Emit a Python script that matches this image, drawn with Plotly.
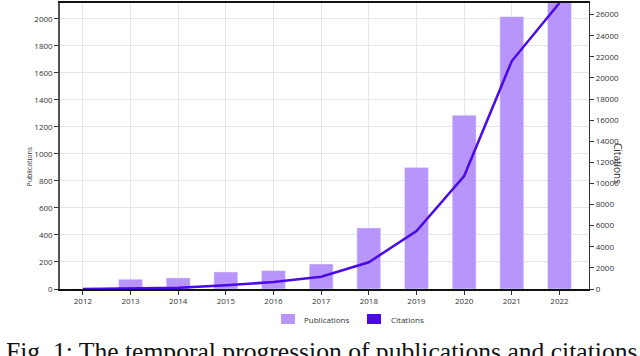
import plotly.graph_objects as go

years = [2012, 2013, 2014, 2015, 2016, 2017, 2018, 2019, 2020, 2021, 2022]
publications = [0, 72, 82, 126, 136, 185, 452, 899, 1287, 2017, 2140]
citations = [0, 40, 110, 350, 660, 1170, 2530, 5500, 10700, 21600, 27100]
left_ticks = list(range(0, 2001, 200))
right_ticks = list(range(0, 26001, 2000))
legend_names = ["Publications", "Citations"]

BAR_C = "#b895fa"
LINE_C = "#4b0be8"
W, H = 640, 356
L, R, T, B = 60, 51, 3, 67
pw, ph = W - L - R, H - T - B

def px_x(p):
    return (p - L) / pw

def px_y(p):
    return (H - B - p) / ph

fig = go.Figure()
fig.add_trace(go.Bar(x=years, y=publications, name=legend_names[0], marker_color=BAR_C,
                     width=0.5, yaxis="y", showlegend=False))
fig.add_trace(go.Scatter(x=years, y=citations, name=legend_names[1], mode="lines",
                         line=dict(color=LINE_C, width=2.5), yaxis="y2", showlegend=False))

tickfont = dict(family="Open Sans", size=8, color="#333")
fig.update_layout(
    width=W, height=H, margin=dict(l=L, r=R, t=T, b=B, autoexpand=False),
    paper_bgcolor="white", plot_bgcolor="white", showlegend=False,
    xaxis=dict(range=[2011.52, 2022.62], tickvals=years, ticktext=[str(y) for y in years],
               showgrid=True, gridcolor="#e6e6e6", gridwidth=1,
               showline=True, linecolor="#111", linewidth=1.5, mirror=True,
               ticks="outside", ticklen=4, tickcolor="#333", tickfont=tickfont, zeroline=False),
    yaxis=dict(range=[0, 2118], tickvals=left_ticks, showgrid=True, gridcolor="#e6e6e6",
               showline=True, linecolor="#555", linewidth=1.5, ticks="outside", ticklen=4,
               tickcolor="#333", tickfont=tickfont, zeroline=False),
    yaxis2=dict(range=[0, 27100], tickvals=right_ticks, ticktext=[str(v) for v in right_ticks],
                overlaying="y", side="right", anchor="x",
                showgrid=False, showline=True, linecolor="#333", linewidth=1.2,
                ticks="outside", ticklen=4, tickcolor="#333", tickfont=tickfont, zeroline=False),
)

# legend drawn as swatches + labels
for (sx, tx, col, name) in [(281, 302, BAR_C, legend_names[0]), (367, 389, LINE_C, legend_names[1])]:
    fig.add_shape(type="rect", xref="paper", yref="paper",
                  x0=px_x(sx), x1=px_x(sx + 14), y0=px_y(314), y1=px_y(324),
                  fillcolor=col, line=dict(width=0))
    fig.add_annotation(text=name, xref="paper", yref="paper", x=px_x(tx), y=px_y(319),
                       xanchor="left", yanchor="middle", showarrow=False,
                       font=dict(family="Open Sans", size=8, color="#333"))

fig.add_annotation(text="Publications", xref="paper", yref="paper", x=px_x(22), y=px_y(167),
                   textangle=-90, showarrow=False, font=dict(family="Open Sans", size=7, color="#333"))
fig.add_annotation(text="Citations", xref="paper", yref="paper", x=px_x(627), y=px_y(163),
                   textangle=90, showarrow=False, font=dict(family="Open Sans", size=10, color="#333"))
fig.add_annotation(text="Fig. 1: The temporal progression of publications and citations",
                   xref="paper", yref="paper", x=px_x(4), y=px_y(335), xanchor="left", yanchor="top",
                   showarrow=False, font=dict(family="Liberation Serif", size=25.6, color="#111"))

fig.write_html("out.html", config={"displayModeBar": False},
               post_script="document.body.style.margin='0';document.body.style.overflow='hidden';")
